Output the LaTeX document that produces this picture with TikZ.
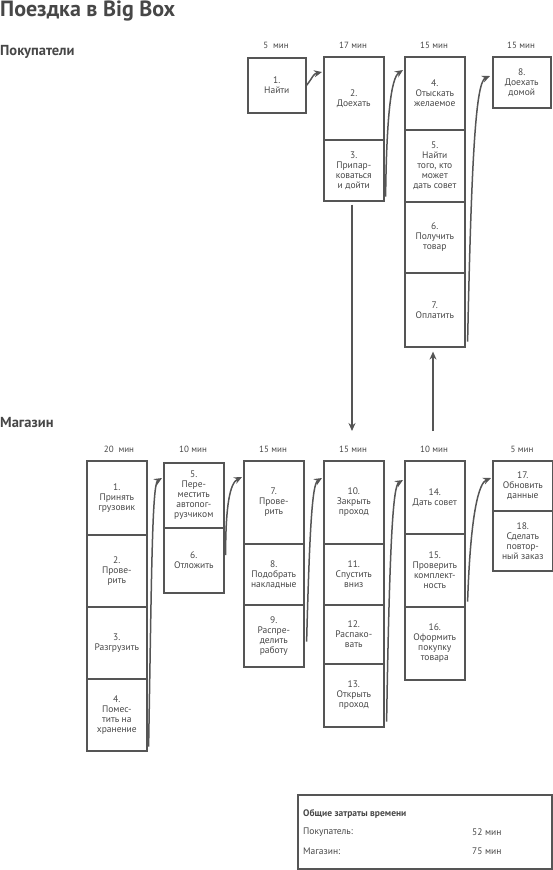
\documentclass[tikz,border=0pt]{standalone}
\usepackage{fontspec}
\setmainfont{PT Sans}
\usetikzlibrary{arrows.meta,calc}
\definecolor{linec}{HTML}{555555}
\definecolor{txtc}{HTML}{474747}
\tikzset{
  box/.style={draw=linec, line width=1.6pt, anchor=north west, inner sep=1pt,
    align=center, font=\fontsize{9.5}{10}\selectfont, text=txtc},
  tlab/.style={font=\fontsize{9}{10}\selectfont, text=txtc},
  arr/.style={draw=linec, line width=1.5pt, -{Stealth[length=8pt,width=7pt]}},
  hdr/.style={anchor=west, font=\bfseries\fontsize{14.5}{16}\selectfont, text=txtc, inner sep=0pt},
  stxt/.style={anchor=west, inner sep=0pt, text=txtc, font=\fontsize{9.5}{11}\selectfont},
}
\begin{document}
\begin{tikzpicture}[x=1pt,y=-1pt]
\useasboundingbox (0,0) rectangle (553,870);
% title and headers
\node[hdr, font=\bfseries\fontsize{22}{24}\selectfont] (title) at (0,11) {Поездка в Big Box};
\node[hdr] (hbuy) at (0,52) {Покупатели};
\node[hdr] (hshop) at (0,422) {Магазин};

% ---- buyers ----
\node[box, minimum width=58, minimum height=55] (pf1) at (247,57) {1.\\Найти};
\node[box, minimum width=60, minimum height=83] (pf2) at (323,56) {2.\\Доехать};
\node[box, minimum width=60, minimum height=61] (pf3) at (323,139) {3.\\Припар-\\коваться\\и дойти};
\node[box, minimum width=60, minimum height=73] (pf4) at (404,56) {4.\\Отыскать\\желаемое};
\node[box, minimum width=60, minimum height=72] (pf5) at (404,129) {5.\\Найти\\того, кто\\может\\дать совет};
\node[box, minimum width=60, minimum height=71] (pf6) at (404,201) {6.\\Получить\\товар};
\node[box, minimum width=60, minimum height=74] (pf7) at (404,272) {7.\\Оплатить};
\node[box, minimum width=58, minimum height=51] (pf8) at (492,56) {8.\\Доехать\\домой};

\node[tlab] (tp1) at (276,45) {5 \ мин};
\node[tlab] (tp2) at (353,45) {17 мин};
\node[tlab] (tp3) at (434,45) {15 мин};
\node[tlab] (tp4) at (521,45) {15 мин};

% ---- shop ----
\node[box, minimum width=60, minimum height=74] (m1) at (86,460) {1.\\Принять\\грузовик};
\node[box, minimum width=60, minimum height=72] (m2) at (86,534) {2.\\Прове-\\рить};
\node[box, minimum width=60, minimum height=72] (m3) at (86,606) {3.\\Разгрузить};
\node[box, minimum width=60, minimum height=72] (m4) at (86,678) {4.\\Помес-\\тить на\\хранение};

\node[box, minimum width=60, minimum height=65] (m5) at (163,462) {5.\\Пере-\\местить\\автопог-\\рузчиком};
\node[box, minimum width=60, minimum height=65] (m6) at (163,527) {6.\\Отложить};

\node[box, minimum width=60, minimum height=83] (m7) at (243,460) {7.\\Прове-\\рить};
\node[box, minimum width=60, minimum height=61] (m8) at (243,543) {8.\\Подобрать\\накладные};
\node[box, minimum width=60, minimum height=62] (m9) at (243,604) {9.\\Распре-\\делить\\работу};

\node[box, minimum width=60, minimum height=83] (m10) at (323,460) {10.\\Закрыть\\проход};
\node[box, minimum width=60, minimum height=61] (m11) at (323,543) {11.\\Спустить\\вниз};
\node[box, minimum width=60, minimum height=59] (m12) at (323,604) {12.\\Распако-\\вать};
\node[box, minimum width=60, minimum height=63] (m13) at (323,663) {13.\\Открыть\\проход};

\node[box, minimum width=60, minimum height=73] (m14) at (404,460) {14.\\Дать совет};
\node[box, minimum width=60, minimum height=73] (m15) at (404,533) {15.\\Проверить\\комплект-\\ность};
\node[box, minimum width=60, minimum height=73] (m16) at (404,606) {16.\\Оформить\\покупку\\товара};

\node[box, minimum width=60, minimum height=50] (m17) at (492,460) {17.\\Обновить\\данные};
\node[box, minimum width=60, minimum height=60] (m18) at (492,510) {18.\\Сделать\\повтор-\\ный заказ};

\node[tlab] (tm1) at (119,449) {20 \ мин};
\node[tlab] (tm2) at (193,449) {10 мин};
\node[tlab] (tm3) at (273,449) {15 мин};
\node[tlab] (tm4) at (353,449) {15 мин};
\node[tlab] (tm5) at (434,449) {10 мин};
\node[tlab] (tm6) at (522,449) {5 мин};

% ---- connectors, buyers ----
\draw[arr] (pf1.east) .. controls +(7,-9) and +(-9,2) .. ($(pf2.north west)+(-1,16)$);
\draw[arr] ($(pf3.south east)+(1,-5)$) .. controls +(1,-80) and +(-12,8) .. ($(pf4.north west)+(-1,14)$);
\draw[arr] ($(pf7.south east)+(2,-6)$) .. controls +(4,-190) and +(-14,6) .. ($(pf8.north west)+(-2,20)$);

% ---- vertical links ----
\coordinate (dn) at (352,431);
\coordinate (up) at (433,431);
\draw[arr] (pf3.south -| dn) ++(0,3) -- (dn);
\draw[arr] (up) -- ($(pf7.south -| up)+(0,4)$);

% ---- connectors, shop ----
\draw[arr] ($(m4.south east)+(1,-5)$) .. controls +(3,-170) and +(-10,6) .. ($(m5.north west)+(-1,16)$);
\draw[arr] ($(m6.north east)+(1,28)$) .. controls +(0,-50) and +(-12,6) .. ($(m7.north west)+(-1,17)$);
\draw[arr] ($(m9.south east)+(2,-26)$) .. controls +(3,-110) and +(-10,6) .. ($(m10.north west)+(-1,18)$);
\draw[arr] ($(m13.south east)+(2,-6)$) .. controls +(3,-180) and +(-10,6) .. ($(m14.north west)+(-1,20)$);
\draw[arr] ($(m15.south east)+(2,-6)$) .. controls +(3,-90) and +(-12,5) .. ($(m17.north west)+(-1,18)$);

% ---- summary ----
\node[draw=linec, line width=1.6pt, anchor=north west, minimum width=254, minimum height=74, inner sep=0pt] (sum) at (297,794) {};
\node[stxt, font=\bfseries\fontsize{9.5}{11}\selectfont] (st) at ($(sum.north west)+(6,20)$) {Общие затраты времени};
\node[stxt] (s1) at ($(sum.north west)+(6,38)$) {Покупатель:};
\node[stxt] (s2) at ($(sum.north west)+(6,57)$) {Магазин:};
\node[stxt] (v1) at ($(sum.north west)+(175,38)$) {52 мин};
\node[stxt] (v2) at ($(sum.north west)+(175,57)$) {75 мин};
\end{tikzpicture}
\end{document}
